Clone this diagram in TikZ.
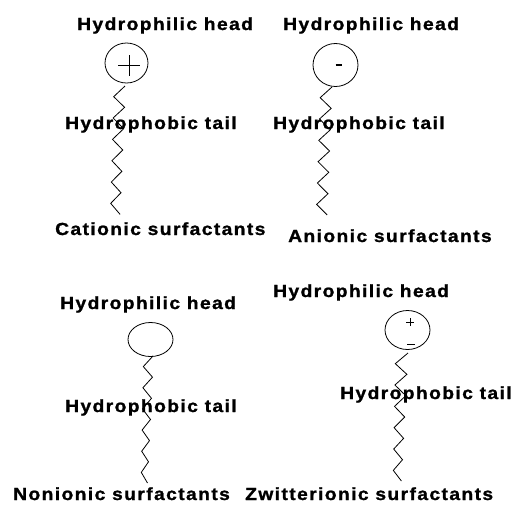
\documentclass[tikz,border=0pt]{standalone}
\usepackage{fontspec}
\newfontfamily\lblfont[LetterSpace=8,FakeStretch=1.1,FakeBold=1.2]{Liberation Sans}
\usetikzlibrary{shapes.geometric}
\begin{document}
\begin{tikzpicture}[x=1pt,y=-1pt,
  lbl/.style={anchor=base west,inner sep=0pt,font=\lblfont\bfseries\fontsize{17.5}{19}\selectfont},
  headshape/.style={draw,ellipse,inner sep=0pt,line width=0.8pt},
  tail/.style={line width=0.8pt,line join=miter},
  sign/.style={line width=0.8pt}]
\useasboundingbox[fill=white] (0,0) rectangle (516,504);

% ---- heads
\node[headshape,minimum width=43pt,minimum height=40pt] (hA) at (126.5,63) {};
\node[headshape,minimum width=45pt,minimum height=43pt] (hB) at (335.5,65) {};
\node[headshape,minimum width=45pt,minimum height=34pt] (hC) at (150.5,339.5) {};
\node[headshape,minimum width=45pt,minimum height=39pt] (hD) at (407.5,330) {};

% ---- charges
\draw[sign] ([xshift=-8.5pt,yshift=-2pt]hA.center) -- ([xshift=13.5pt,yshift=-2pt]hA.center);
\draw[sign] ([xshift=2.5pt,yshift=8pt]hA.center) -- ([xshift=2.5pt,yshift=-13pt]hA.center);
\draw[line width=1.6pt] ([xshift=0pt]hB.center) -- ([xshift=6.5pt]hB.center);
\draw[sign] ([xshift=-1.5pt,yshift=8pt]hD.center) -- ([xshift=6.5pt,yshift=8pt]hD.center);
\draw[sign] ([xshift=2.5pt,yshift=4pt]hD.center) -- ([xshift=2.5pt,yshift=12pt]hD.center);
\draw[sign] ([xshift=-0.5pt,yshift=-14pt]hD.center) -- ([xshift=7.5pt,yshift=-14pt]hD.center);

% ---- tails
\coordinate (tA) at (120.1,214.4);
\coordinate (tB) at (327.2,215);
\coordinate (tC) at (147.5,483);
\coordinate (tD) at (401.4,481);
\draw[tail] (125,86) \foreach \i in {1,...,11}{ -- ({mod(\i,2)==1 ? 114-0.3*\i : 125.5-0.45*\i},{86+\i*10.67}) } -- (tA);
\draw[tail] (332,87) \foreach \i in {1,...,11}{ -- ({mod(\i,2)==1 ? 320.5-0.35*\i : 332-0.4*\i},{87+\i*10.67}) } -- (tB);
\draw[tail] (153,356) \foreach \i in {1,...,11}{ -- ({mod(\i,2)==1 ? 143.5-0.2*\i : 153.5-0.5*\i},{356+\i*10.58}) } -- (tC);
\draw[tail] (408,353) \foreach \i in {1,...,11}{ -- ({mod(\i,2)==1 ? 395.5-0.2*\i : 408-0.55*\i},{353+\i*10.67}) } -- (tD);

% ---- labels
\node[lbl] (l1) at (77,30) {Hydrophilic head};
\node[lbl] (l2) at (65,129) {Hydrophobic tail};
\node[lbl] (l3) at (55,235) {Cationic surfactants};
\node[lbl] (l4) at (283,30) {Hydrophilic head};
\node[lbl] (l5) at (273,129) {Hydrophobic tail};
\node[lbl] (l6) at (288,242) {Anionic surfactants};
\node[lbl] (l7) at (60,309) {Hydrophilic head};
\node[lbl] (l8) at (65,412) {Hydrophobic tail};
\node[lbl] (l9) at (13,500) {Nonionic surfactants};
\node[lbl] (l10) at (273,297) {Hydrophilic head};
\node[lbl] (l11) at (340,399) {Hydrophobic tail};
\node[lbl] (l12) at (245,500) {Zwitterionic surfactants};
\end{tikzpicture}
\end{document}
